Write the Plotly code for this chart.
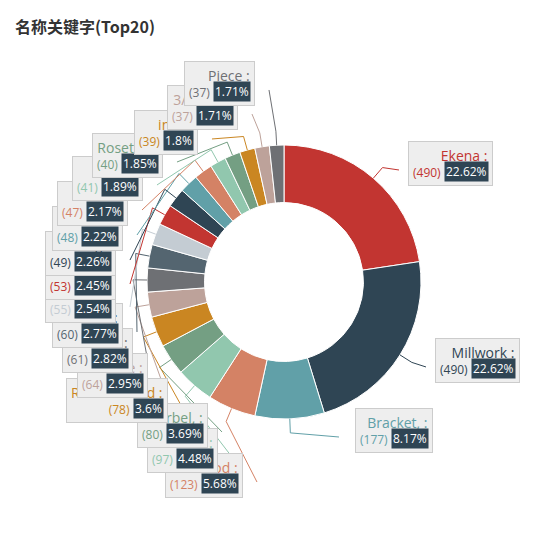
import math
import plotly.graph_objects as go

names = ["Ekena", "Millwork", "Bracket,", "Wood", "1/2 inch", "Corbel,", "Rubberwood", "White",
         "1/4 inch", "1/2\"", "Primed", "Factory", "Onlay,", "Steel", "Alder", "Onlay",
         "Rosette,", "inch", "3/4 inch", "Piece"]
values = [490, 490, 177, 123, 97, 80, 78, 64, 61, 60, 55, 53, 49, 48, 47, 41, 40, 39, 37, 37]
palette = ["#c23531", "#2f4554", "#61a0a8", "#d48265", "#91c7ae", "#749f83", "#ca8622",
           "#bda29a", "#6e7074", "#546570", "#c4ccd3"]
colors = [palette[i % len(palette)] for i in range(len(values))]
# right/bottom pixel corner of each label box
box_rb = [(485, 178), (512, 375), (425, 445), (235, 490), (210, 465), (200, 440), (160, 415),
          (140, 390), (125, 365), (115, 340), (108, 315), (108, 292), (108, 268), (115, 243),
          (120, 218), (135, 193), (155, 170), (190, 147), (230, 122), (247, 98)]

W = 551
cx, cy, R = 276, 274, 137
total = sum(values)

def px(x, y):
    return x / W, 1 - y / W

fig = go.Figure(go.Pie(
    labels=names, values=values, sort=False, direction="clockwise", rotation=0,
    hole=0.58, marker=dict(colors=colors, line=dict(color="white", width=1)),
    textinfo="none", hoverinfo="label+value+percent", showlegend=False,
    domain=dict(x=[(cx - R) / W, (cx + R) / W], y=[1 - (cy + R) / W, 1 - (cy - R) / W]),
))

shapes, anns = [], []
acc = 0
for n, v, c, (bx, by) in zip(names, values, colors, box_rb):
    mid = (acc + v / 2) / total * 2 * math.pi
    acc += v
    sx, sy = math.sin(mid), -math.cos(mid)
    p1 = (cx + R * sx, cy + R * sy)
    p2 = (cx + (R + 14) * sx, cy + (R + 14) * sy)
    right_side = sx > 0
    bw = 90
    p3 = ((bx - bw - 4) if right_side else (bx + 14), by - 16)
    pts = [px(*p1), px(*p2), px(*p3)]
    path = "M {} {} L {} {} L {} {}".format(*[f"{a:.4f}" for p in pts for a in p])
    shapes.append(dict(type="path", path=path, xref="paper", yref="paper",
                       line=dict(color=c, width=1)))
    pct = f"{v / total * 100:.2f}".rstrip("0").rstrip(".") + "%"
    x, y = px(bx, by)
    anns.append(dict(x=x, y=y, xref="paper", yref="paper", xanchor="right", yanchor="bottom",
                     showarrow=False, align="right",
                     text=f"<span style='font-size:14px'>{n} :</span><br>({v})  "
                          f"<span style='color:#eeeeee'>{pct}</span>",
                     font=dict(color=c, size=12, family="Open Sans"),
                     bgcolor="#eeeeee", bordercolor="#cccccc", borderwidth=1, borderpad=4))
    anns.append(dict(x=x, y=y, xref="paper", yref="paper", xanchor="right", yanchor="bottom",
                     showarrow=False, text=pct, xshift=-4, yshift=4,
                     font=dict(color="white", size=12, family="Open Sans"),
                     bgcolor="#2f4554", borderpad=1))

anns.append(dict(x=5 / W, y=1 - 4 / W, xref="paper", yref="paper", xanchor="left", yanchor="top",
                 showarrow=False, text="<b>名称关键字(Top20)</b>",
                 font=dict(size=16, color="#333333", family="Noto Sans CJK SC")))

fig.update_layout(width=W, height=W, margin=dict(l=0, r=0, t=0, b=0),
                  paper_bgcolor="white", shapes=shapes, annotations=anns)
fig.write_html("out.html")
